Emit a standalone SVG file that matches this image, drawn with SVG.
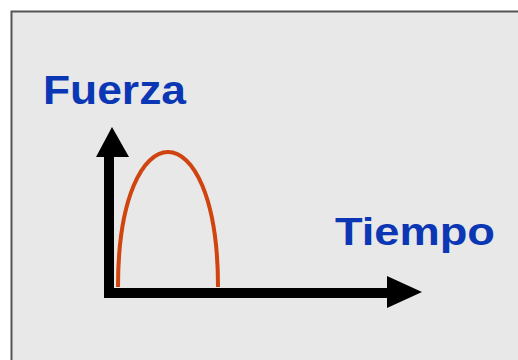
<svg xmlns="http://www.w3.org/2000/svg" width="518" height="360" viewBox="0 0 518 360">
<style>
.lbl{font-family:"Liberation Sans",Arial,sans-serif;font-weight:bold;fill:#0b36b4}
.axis{stroke:#000;stroke-width:10;fill:none}
</style>
<rect width="518" height="360" fill="#fff"/>
<rect x="11.5" y="11.5" width="520" height="360" fill="#e8e8e8" stroke="#555" stroke-width="2"/>
<g id="fuerza"><text class="lbl" x="43" y="104" font-size="41" textLength="143" lengthAdjust="spacingAndGlyphs">Fuerza</text></g>
<g id="tiempo"><text class="lbl" x="335" y="245" font-size="38" textLength="160" lengthAdjust="spacingAndGlyphs">Tiempo</text></g>
<g id="connectors">
<path class="axis" d="M109,298 V150 M104,293 H392"/>
<polygon points="96,157 112,127 129,157" fill="#000"/>
<polygon points="387,276 422,292 387,308" fill="#000"/>
</g>
<g id="curve"><path d="M118,287 C118,107 218,107 218,287" fill="none" stroke="#d0440f" stroke-width="4"/></g>
</svg>
